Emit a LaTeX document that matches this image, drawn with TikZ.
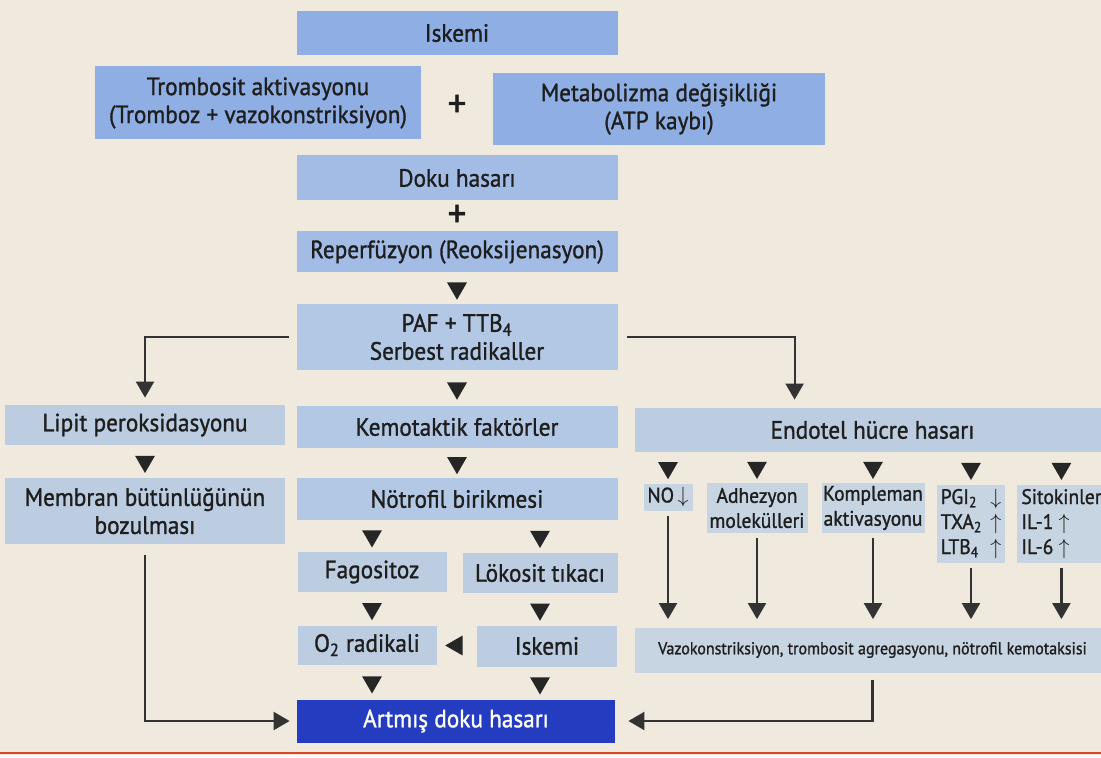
\documentclass[tikz,border=0pt]{standalone}
\usepackage{fontspec}
\setmainfont{PT Sans}[FakeStretch=0.93,FakeBold=1.2]
\usetikzlibrary{shapes.geometric,arrows.meta,calc}

\definecolor{zemin}{HTML}{EFE9DE}
\definecolor{yazi}{HTML}{1E1E1E}
\definecolor{mavi1}{HTML}{8FAFE4}
\definecolor{mavi2}{HTML}{A2BCE6}
\definecolor{mavi3}{HTML}{B3C8E5}
\definecolor{mavi4}{HTML}{BCCDE1}
\definecolor{mavi5}{HTML}{C7D4E2}
\definecolor{koyumavi}{HTML}{233CC0}

\tikzset{
	kutu/.style={rectangle,inner sep=0pt,align=center,text=yazi,
		font=\fontsize{12.5}{14}\selectfont},
	kucuk/.style={kutu,fill=mavi5,font=\fontsize{10.5}{12.5}\selectfont},
	arti/.style={text=yazi,inner sep=0pt,font=\fontsize{20}{20}\selectfont},
	dtri/.style={regular polygon,regular polygon sides=3,shape border rotate=180,
		fill=black!85,inner sep=0pt,minimum size=11.5pt},
	ltri/.style={dtri,shape border rotate=90},
	conn/.style={draw=black!80,line width=1.1pt,-{Triangle[width=9pt,length=8pt]}}
}

\begin{document}
\begin{tikzpicture}[x=0.5pt,y=-0.5pt]
		\fill[zemin] (0,0) rectangle (1101,758);
		\clip (0,0) rectangle (1101,758);
		\draw[red!45!brown,line width=1.2pt] (0,753) -- (1101,753);
		\fill[white!85!zemin] (0,754.5) rectangle (1101,758);

		% ana sutun
		\node[kutu,fill=mavi1,minimum width=160.5pt,minimum height=22pt] (iskemi)
			at (457,33) {Iskemi};
		\node[kutu,fill=mavi1,minimum width=163pt,minimum height=36.5pt] (trombosit)
			at (258,103) {Trombosit aktivasyonu\\(Tromboz + vazokonstriksiyon)};
		\node[kutu,fill=mavi1,minimum width=166pt,minimum height=36pt] (metabolizma)
			at (659,109) {Metabolizma değişikliği\\(ATP kaybı)};
		\node[kutu,fill=mavi2,minimum width=160.5pt,minimum height=22.5pt] (doku)
			at (457,178) {Doku hasarı};
		\node[kutu,fill=mavi2,minimum width=160.5pt,minimum height=20.5pt] (reperfuzyon)
			at (457,252) {Reperfüzyon (Reoksijenasyon)};
		\node[kutu,fill=mavi3,minimum width=160.5pt,minimum height=33pt] (paf)
			at (457,337) {PAF + TTB\textsubscript{4}\\Serbest radikaller};
		\node[kutu,fill=mavi3,minimum width=160.5pt,minimum height=20.5pt] (kemotaktik)
			at (457,427) {Kemotaktik faktörler};
		\node[kutu,fill=mavi3,minimum width=160.5pt,minimum height=21pt] (notrofil)
			at (457,499) {Nötrofil birikmesi};
		\node[kutu,fill=mavi4,minimum width=74.5pt,minimum height=20pt] (fagositoz)
			at (372,572) {Fagositoz};
		\node[kutu,fill=mavi4,minimum width=77.5pt,minimum height=20pt] (lokosit)
			at (540,573) {Lökosit tıkacı};
		\node[kutu,fill=mavi4,minimum width=69.5pt,minimum height=19.5pt] (radikal)
			at (367,645) {O\textsubscript{2} radikali};
		\node[kutu,fill=mavi4,minimum width=70pt,minimum height=20.5pt] (iskemi2)
			at (547,646) {Iskemi};
		\node[kutu,fill=koyumavi,text=white,minimum width=159pt,minimum height=21.5pt] (artmis)
			at (456,721) {Artmış doku hasarı};

		% sol sutun
		\node[kutu,fill=mavi4,minimum width=140pt,minimum height=20pt] (lipit)
			at (145,425) {Lipit peroksidasyonu};
		\node[kutu,fill=mavi4,minimum width=140pt,minimum height=33pt] (membran)
			at (145,511) {Membran bütünlüğünün\\bozulması};

		% sag taraf
		\node[kutu,fill=mavi4,minimum width=237.5pt,minimum height=22pt] (endotel)
			at (872.5,430) {Endotel hücre hasarı};
		\node[kucuk,minimum width=24.5pt,minimum height=13.5pt] (no)
			at (668,497) {NO\,$\downarrow$};
		\node[kucuk,minimum width=50.5pt,minimum height=25pt] (adhezyon)
			at (757,508) {Adhezyon\\molekülleri};
		\node[kucuk,minimum width=51.5pt,minimum height=25pt] (kompleman)
			at (873,508) {Kompleman\\aktivasyonu};
		\node[kucuk,minimum width=34pt,minimum height=39pt] (pgi)
			at (971,524) {\begin{tabular}{@{}l@{\hspace{4pt}}c@{}}
				PGI\textsubscript{2} & $\downarrow$\\
				TXA\textsubscript{2} & $\uparrow$\\
				LTB\textsubscript{4} & $\uparrow$
			\end{tabular}};
		\node[kucuk,anchor=west,inner xsep=2pt,minimum width=42pt,minimum height=39pt] (sitokin)
			at (1017,524) {\begin{tabular}{@{}l@{}}
				Sitokinler\\
				IL-1 $\uparrow$\\
				IL-6 $\uparrow$
			\end{tabular}};
		\node[kutu,fill=mavi5,minimum width=237.5pt,minimum height=22.5pt,
			font=\fontsize{8.6}{10}\selectfont] (vazo)
			at (872.5,650) {Vazokonstriksiyon, trombosit agregasyonu, nötrofil kemotaksisi};

		% arti isaretleri ve oklar
		\path (trombosit) -- node[arti] (arti1) {+} (metabolizma);
		\path (doku) -- node[arti] (arti2) {+} (reperfuzyon);

		\path (reperfuzyon) -- node[dtri] (ok1) {} (paf);
		\path (paf) -- node[dtri] (ok2) {} (kemotaktik);
		\path (kemotaktik) -- node[dtri] (ok3) {} (notrofil);
		\path (lipit) -- node[dtri] (ok4) {} (membran);
		\path (fagositoz.north |- notrofil.south) -- node[dtri] (ok5) {} (fagositoz.north);
		\path (lokosit.north |- notrofil.south) -- node[dtri] (ok6) {} (lokosit.north);
		\path (fagositoz.south) -- node[dtri] (ok7) {} (fagositoz.south |- radikal.north);
		\path (lokosit.south) -- node[dtri] (ok8) {} (lokosit.south |- iskemi2.north);
		\path (iskemi2) -- node[ltri] (ok9) {} (radikal);
		\path (fagositoz.south |- radikal.south) -- node[dtri] (ok10) {} (fagositoz.south |- artmis.north);
		\path (lokosit.south |- iskemi2.south) -- node[dtri] (ok11) {} (lokosit.south |- artmis.north);

		\path (no.north |- endotel.south) -- node[dtri] (ok12) {} (no.north);
		\path (adhezyon.north |- endotel.south) -- node[dtri] (ok13) {} (adhezyon.north);
		\path (kompleman.north |- endotel.south) -- node[dtri] (ok14) {} (kompleman.north);
		\path (pgi.north |- endotel.south) -- node[dtri] (ok15) {} (pgi.north);
		\path (sitokin.north |- endotel.south) -- node[dtri] (ok16) {} (sitokin.north);

		\draw[conn,shorten <=3.5pt,shorten >=3.5pt] (paf.west) -| (lipit.north);
		\draw[conn,shorten <=4.5pt,shorten >=4pt] (paf.east) -| ($(endotel.north west)+(160,0)$);

		\draw[conn,shorten <=2.5pt,shorten >=4pt] (no.south) -- (no.south |- vazo.north);
		\draw[conn,shorten <=2.5pt,shorten >=4pt] (adhezyon.south) -- (adhezyon.south |- vazo.north);
		\draw[conn,shorten <=2.5pt,shorten >=4pt] (kompleman.south) -- (kompleman.south |- vazo.north);
		\draw[conn,shorten <=2.5pt,shorten >=4pt] (pgi.south) -- (pgi.south |- vazo.north);
		\draw[conn,shorten <=2.5pt,shorten >=4pt] (sitokin.south) -- (sitokin.south |- vazo.north);

		\draw[conn,shorten <=5.5pt,shorten >=3.5pt] (membran.south) |- (artmis.west);
		\draw[conn,shorten <=3.5pt,shorten >=6.5pt] (vazo.south) |- (artmis.east);
	\end{tikzpicture}
\end{document}
